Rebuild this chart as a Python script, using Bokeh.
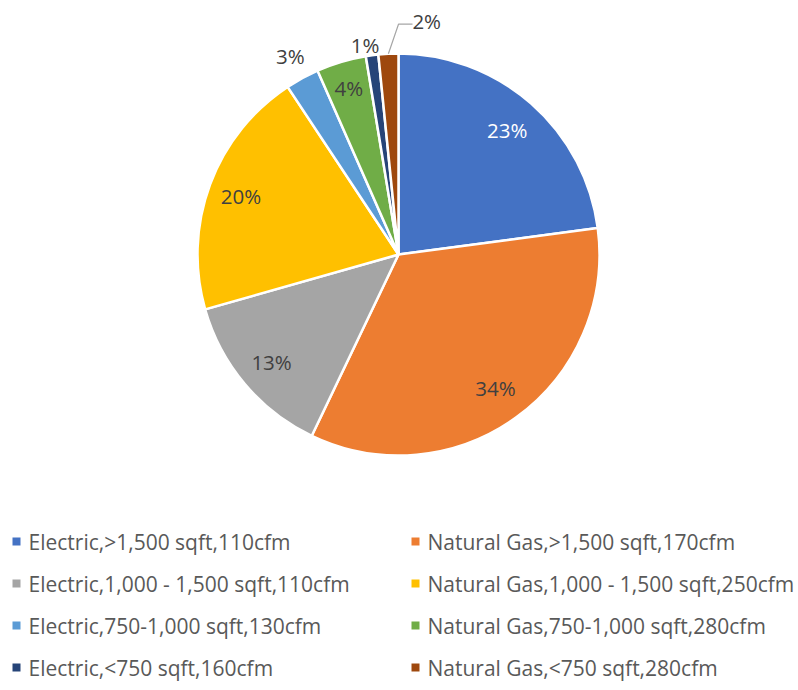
import numpy as np
from bokeh.plotting import figure
from bokeh.models import Range1d, ColumnDataSource
from bokeh.core.properties import value
from bokeh.embed import file_html
from bokeh.resources import INLINE

categories = [
    "Electric,>1,500 sqft,110cfm",
    "Natural Gas,>1,500 sqft,170cfm",
    "Electric,1,000 - 1,500 sqft,110cfm",
    "Natural Gas,1,000 - 1,500 sqft,250cfm",
    "Electric,750-1,000 sqft,130cfm",
    "Natural Gas,750-1,000 sqft,280cfm",
    "Electric,<750 sqft,160cfm",
    "Natural Gas,<750 sqft,280cfm",
]
shares = [22.9, 34.2, 13.5, 20.1, 2.7, 4.0, 1.0, 1.6]
pct_labels = ["23%", "34%", "13%", "20%", "3%", "4%", "1%", "2%"]
colors = ["#4472C4", "#ED7D31", "#A5A5A5", "#FFC000",
          "#5B9BD5", "#70AD47", "#264478", "#9E480E"]
label_colors = ["#FFFFFF", "#404040", "#404040", "#404040",
                "#404040", "#404040", "#404040", "#404040"]

W, H = 798, 690
p = figure(width=W, height=H, output_backend="svg", toolbar_location=None,
           x_range=Range1d(0, W), y_range=Range1d(0, H),
           min_border=0)
p.axis.visible = False
p.grid.visible = False
p.outline_line_color = None
p.background_fill_color = "white"
p.border_fill_color = "white"

def Y(img_y):
    return H - img_y

cx, cy, R = 398, Y(254), 201
vals = np.array(shares, dtype=float)
frac = vals / vals.sum()
cum = np.concatenate([[0], np.cumsum(frac)])
start = np.pi / 2 - 2 * np.pi * cum[:-1]
end = np.pi / 2 - 2 * np.pi * cum[1:]

src = ColumnDataSource(dict(start=start, end=end, color=colors))
p.wedge(x=cx, y=cy, radius=R, start_angle="start", end_angle="end",
        direction="clock", fill_color="color", line_color="white",
        line_width=2.5, source=src)

# percentage labels
mid = (start + end) / 2
lab_r = np.array([165, 165, 166, 168, 226, 174, 212, 235], dtype=float)
lab_ang = mid.copy()
lab_ang[6] = lab_ang[6] + np.deg2rad(1.5)
lab_ang[7] = np.pi / 2 - np.deg2rad(6.9)
lx = cx + lab_r * np.cos(lab_ang)
ly = cy + lab_r * np.sin(lab_ang)
p.text(x=lx, y=ly, text=pct_labels, text_align="center",
       text_baseline="middle", text_font=value("Open Sans"),
       text_font_size="20.5px", text_color=label_colors)

# leader line for smallest slice
ex = cx + R * np.cos(mid[7])
ey = cy + R * np.sin(mid[7])
p.line(x=[ex, cx, cx + 14], y=[ey, ly[7] - 3, ly[7] - 3],
       line_color="#A6A6A6", line_width=1.2)

# legend
col_sq_x = [16, 415]
row_y = [541, 583, 625, 667]
sq_x, sq_y, tx, ty = [], [], [], []
for i in range(len(categories)):
    c = i % 2
    r = i // 2
    sq_x.append(col_sq_x[c])
    sq_y.append(Y(row_y[r]))
    tx.append(col_sq_x[c] + 12)
    ty.append(Y(row_y[r]))
p.rect(x=sq_x, y=sq_y, width=8, height=8, fill_color=colors, line_color=None)
p.text(x=tx, y=ty, text=categories, text_align="left", text_baseline="middle",
       text_font=value("Open Sans"), text_font_size="21px", text_color="#595959")

open("out.html", "w").write(file_html(p, INLINE))
